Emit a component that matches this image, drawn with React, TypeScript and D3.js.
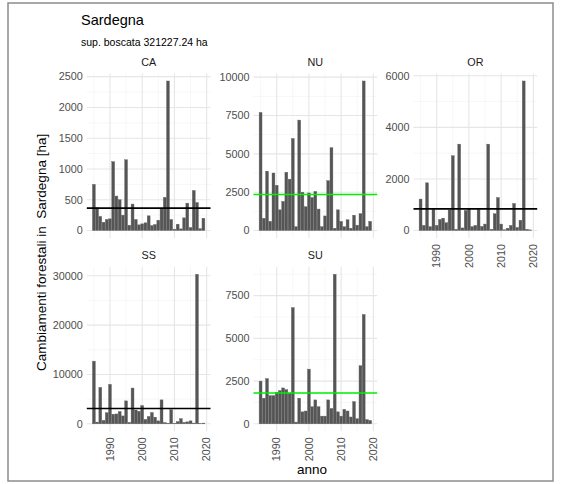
import React from 'react';
import * as d3 from 'd3';

const years = [1985,1986,1987,1988,1989,1990,1991,1992,1993,1994,1995,1996,1997,1998,1999,2000,2001,2002,2003,2004,2005,2006,2007,2008,2009,2010,2011,2012,2013,2014,2015,2016,2017,2018,2019];

const valuesCA = [750,370,230,135,180,190,1120,560,500,250,1150,87,430,180,92,108,125,239,81,98,168,360,540,2430,180,22,103,27,206,445,49,651,455,30,200];
const valuesNU = [7700,800,3870,600,3750,2950,1350,1900,3800,3350,6000,250,7200,2500,1550,2450,2150,2550,1400,250,950,3250,5400,150,1350,600,250,700,150,1000,350,1100,9750,250,600];
const valuesOR = [1220,200,1850,150,820,200,430,480,300,800,2900,50,3350,100,780,860,150,200,820,160,250,3350,50,650,1280,250,30,90,200,1050,120,400,5800,50,25];
const valuesSS = [12700,350,7400,700,2250,8000,1950,2000,2500,1600,4650,300,7250,2800,2550,3700,900,1500,2300,1350,600,4850,250,100,2850,50,450,1050,300,400,600,150,30300,20,150];
const valuesSU = [2500,1500,2650,1650,1650,1850,1950,2100,2000,1800,6800,100,1500,700,750,3200,1000,1400,1000,450,450,1400,900,8750,700,450,850,750,400,1300,300,3400,6400,250,200];

const panelNames = ['CA', 'NU', 'OR', 'SS', 'SU'];
const panelValues = [valuesCA, valuesNU, valuesOR, valuesSS, valuesSU];
const yTicksCA = [0, 500, 1000, 1500, 2000, 2500];
const yTicksNU = [0, 2500, 5000, 7500, 10000];
const yTicksOR = [0, 2000, 4000, 6000];
const yTicksSS = [0, 10000, 20000, 30000];
const yTicksSU = [0, 2500, 5000, 7500];
const panelTicks = [yTicksCA, yTicksNU, yTicksOR, yTicksSS, yTicksSU];
const meanColors = ['#000000', '#00ee00', '#000000', '#000000', '#00ee00'];
const xMajor = [1990, 2000, 2010, 2020];
const xMinor = [1985, 1995, 2005, 2015];

const title = 'Sardegna';
const subtitle = 'sup. boscata 321227.24 ha';
const xTitle = 'anno';
const yTitle = 'Cambiamenti forestali in  Sardegna [ha]';

const FONT = '"Liberation Sans", Arial, sans-serif';
const colLeft = [86.8, 253.5, 413.5];
const panelW = 123.7;
const rowTop = [73.5, 266.8];
const panelH = 164.5;

export default function App() {
  const panels = panelNames.map((name, i) => {
    const col = i < 3 ? i : i - 3;
    const row = i < 3 ? 0 : 1;
    const left = colLeft[col];
    const top = rowTop[row];
    const vals = panelValues[i];
    const ticks = panelTicks[i];
    const max = d3.max(vals) as number;
    const x = d3.scaleLinear().domain([1984.55 - 1.745, 2019.45 + 1.745]).range([left, left + panelW]);
    const y = d3.scaleLinear().domain([-0.05 * max, 1.05 * max]).range([top + panelH, top]);
    const minorY: number[] = [];
    for (let k = 0; k < ticks.length; k++) {
      const step = ticks[1] - ticks[0];
      const m = ticks[k] + step / 2;
      if (y(m) >= top) minorY.push(m);
    }
    const mean = d3.mean(vals) as number;
    const showX = i >= 2;
    return (
      <g key={name}>
        {minorY.map((t) => (
          <line key={'my' + t} x1={left} x2={left + panelW} y1={y(t)} y2={y(t)} stroke="#f2f2f2" strokeWidth={0.6} />
        ))}
        {xMinor.map((t) => (
          <line key={'mx' + t} x1={x(t)} x2={x(t)} y1={top} y2={top + panelH} stroke="#f2f2f2" strokeWidth={0.6} />
        ))}
        {ticks.map((t) => (
          <line key={'gy' + t} x1={left} x2={left + panelW} y1={y(t)} y2={y(t)} stroke="#e6e6e6" strokeWidth={1.1} />
        ))}
        {xMajor.map((t) => (
          <line key={'gx' + t} x1={x(t)} x2={x(t)} y1={top} y2={top + panelH} stroke="#e6e6e6" strokeWidth={1.1} />
        ))}
        {vals.map((v, j) => (
          <rect key={'b' + j} x={x(years[j] - 0.45)} width={x(years[j] + 0.45) - x(years[j] - 0.45)} y={y(v)} height={y(0) - y(v)} fill="#555555" stroke="#6a6a6a" strokeWidth={0.4} />
        ))}
        <line x1={left} x2={left + panelW} y1={y(mean)} y2={y(mean)} stroke={meanColors[i]} strokeWidth={1.6} />
        {ticks.map((t) => (
          <text key={'ty' + t} x={left - 4} y={y(t)} dy="0.35em" textAnchor="end" fontSize={10.8} fill="#4d4d4d" fontFamily={FONT}>{t}</text>
        ))}
        {showX && xMajor.map((t) => (
          <text key={'tx' + t} transform={`translate(${x(t)},${top + panelH + 6}) rotate(-90)`} dy="0.35em" textAnchor="end" fontSize={10.8} fill="#4d4d4d" fontFamily={FONT}>{t}</text>
        ))}
        <text x={left + panelW / 2} y={top - 8} textAnchor="middle" fontSize={10.8} fill="#1a1a1a" fontFamily={FONT}>{name}</text>
      </g>
    );
  });

  return (
    <svg width={562} height={484} style={{ position: 'absolute', left: 0, top: 0, background: '#fff' }}>
      <rect x={0} y={0} width={562} height={484} fill="#ffffff" />
      <rect x={8} y={3} width={545} height={478} fill="#ffffff" stroke="#8c8c8c" strokeWidth={1.5} />
      <text x={81} y={25} fontSize={14.5} fill="#000" fontFamily={FONT}>{title}</text>
      <text x={81} y={46} fontSize={10.5} fill="#000" fontFamily={FONT}>{subtitle}</text>
      {panels}
      <text x={(colLeft[0] + colLeft[2] + panelW) / 2} y={474} textAnchor="middle" fontSize={13.5} fill="#000" fontFamily={FONT}>{xTitle}</text>
      <text transform={`translate(46,${(rowTop[0] + rowTop[1] + panelH) / 2}) rotate(-90)`} textAnchor="middle" fontSize={13.5} fill="#000" fontFamily={FONT} style={{ whiteSpace: 'pre' }}>{yTitle}</text>
    </svg>
  );
}
